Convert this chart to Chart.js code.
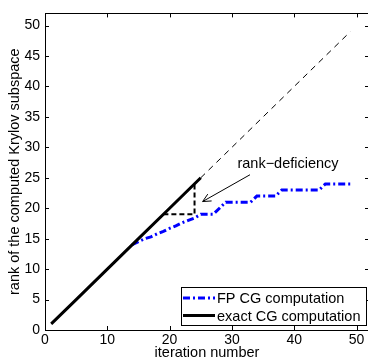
<!DOCTYPE html>
<html>
<head>
<meta charset="utf-8">
<script src="https://cdn.jsdelivr.net/npm/chart.js@4/dist/chart.umd.min.js"></script>
<style>
  html, body { margin: 0; padding: 0; background: #fff; overflow: hidden; }
  #wrap { position: absolute; left: 0; top: 0; width: 372px; height: 362px; }
</style>
</head>
<body>
<div id="wrap"><canvas id="c" width="372" height="362"></canvas></div>
<script>
// ---- data ----
const xTicks = [0, 10, 20, 30, 40, 50];
const yTicks = [0, 5, 10, 15, 20, 25, 30, 35, 40, 45, 50];

const refX = [1, 49];
const refY = [1, 49];

const exactX = [1, 5, 10, 15, 20, 25];
const exactY = [1, 5, 10, 15, 20, 25];

const fpX = [14, 15, 16, 17, 18, 19, 20, 21, 22, 23, 24, 25, 26, 27, 28, 29, 30, 31, 32, 33, 34, 35, 36, 37, 38, 39, 40, 41, 42, 43, 44, 45, 46, 47, 48, 49];
const fpY = [14, 14.5, 15, 15.3, 15.8, 16.2, 16.7, 17.1, 17.6, 18.0, 18.4, 19, 19, 19, 20, 21, 21, 21, 21, 21, 22, 22, 22, 22, 23, 23, 23, 23, 23, 23, 23, 24, 24, 24, 24, 24];

const gapX = [19, 24, 24];
const gapY = [19, 19, 24];

const annText = 'rank\u2212deficiency';
const annTextPos = [39, 27.3];
const annArrowFrom = [32.9, 25.5];
const annArrowTo = [25.3, 21.1];

const labels = ['FP CG computation', 'exact CG computation'];
const xTitle = 'iteration number';
const yTitle = 'rank of the computed Krylov subspace';

const pts = (xs, ys) => xs.map((x, i) => ({ x: x, y: ys[i] }));
const FONT = '"Liberation Sans", Arial, Helvetica, sans-serif';

// ---- plugin: box, inward ticks, annotation, legend ----
const decor = {
  id: 'decor',
  beforeDatasetsDraw(chart) {
    const { ctx, chartArea: a, scales: { x, y } } = chart;
    ctx.save();
    ctx.strokeStyle = '#000';
    ctx.lineWidth = 1;
    ctx.strokeRect(Math.round(a.left) + 0.5, Math.round(a.top) + 0.5, Math.round(a.right - a.left), Math.round(a.bottom - a.top));
    const tl = 4;
    ctx.beginPath();
    xTicks.forEach(v => {
      const px = Math.round(x.getPixelForValue(v)) + 0.5;
      ctx.moveTo(px, a.bottom); ctx.lineTo(px, a.bottom - tl);
      ctx.moveTo(px, a.top); ctx.lineTo(px, a.top + tl);
    });
    yTicks.forEach(v => {
      const py = Math.round(y.getPixelForValue(v)) + 0.5;
      ctx.moveTo(a.left, py); ctx.lineTo(a.left + tl, py);
      ctx.moveTo(a.right, py); ctx.lineTo(a.right - tl, py);
    });
    ctx.stroke();
    ctx.restore();
  },
  afterDatasetsDraw(chart) {
    const { ctx, chartArea: a, scales: { x, y } } = chart;
    ctx.save();
    // annotation
    ctx.fillStyle = '#000';
    ctx.font = '14.5px ' + FONT;
    ctx.textAlign = 'center';
    ctx.textBaseline = 'middle';
    ctx.fillText(annText, x.getPixelForValue(annTextPos[0]), y.getPixelForValue(annTextPos[1]));
    const x1 = x.getPixelForValue(annArrowFrom[0]), y1 = y.getPixelForValue(annArrowFrom[1]);
    const x2 = x.getPixelForValue(annArrowTo[0]), y2 = y.getPixelForValue(annArrowTo[1]);
    ctx.strokeStyle = '#000';
    ctx.lineWidth = 1;
    ctx.beginPath();
    ctx.moveTo(x1, y1); ctx.lineTo(x2, y2);
    const ang = Math.atan2(y2 - y1, x2 - x1);
    const hl = 9, hw = 0.45;
    ctx.moveTo(x2 - hl * Math.cos(ang - hw), y2 - hl * Math.sin(ang - hw));
    ctx.lineTo(x2, y2);
    ctx.lineTo(x2 - hl * Math.cos(ang + hw), y2 - hl * Math.sin(ang + hw));
    ctx.stroke();

    // legend
    const bw = 185, bh = 38;
    const bx = Math.round(a.right - 3 - bw), by = Math.round(a.bottom - 5 - bh);
    ctx.fillStyle = '#fff';
    ctx.fillRect(bx, by, bw, bh);
    ctx.strokeRect(bx + 0.5, by + 0.5, bw, bh);
    const items = [chart.data.datasets[0], chart.data.datasets[1]];
    items.forEach((ds, i) => {
      const cy = by + 11 + i * 17.5;
      ctx.save();
      ctx.strokeStyle = ds.borderColor;
      ctx.lineWidth = ds.borderWidth;
      ctx.setLineDash(ds.borderDash || []);
      ctx.beginPath();
      ctx.moveTo(bx + 2, cy); ctx.lineTo(bx + 34, cy);
      ctx.stroke();
      ctx.restore();
      ctx.fillStyle = '#000';
      ctx.font = '14.5px ' + FONT;
      ctx.textAlign = 'left';
      ctx.textBaseline = 'middle';
      ctx.fillText(ds.label, bx + 36, cy + 1);
    });
    ctx.restore();
  }
};

const tickFont = { family: FONT, size: 14 };
const titleFont = { family: FONT, size: 14.5 };

new Chart(document.getElementById('c'), {
  type: 'scatter',
  data: {
    datasets: [
      { label: labels[0], data: pts(fpX, fpY), showLine: true, borderColor: '#0000ff', borderWidth: 3,
        borderDash: [7, 3, 2, 3], pointRadius: 0, tension: 0, order: 2 },
      { label: labels[1], data: pts(exactX, exactY), showLine: true, borderColor: '#000', borderWidth: 3,
        pointRadius: 0, tension: 0, order: 1 },
      { label: 'ref', data: pts(refX, refY), showLine: true, borderColor: '#000', borderWidth: 1,
        borderDash: [6, 5], pointRadius: 0, order: 3 },
      { label: 'gap', data: pts(gapX, gapY), showLine: true, borderColor: '#000', borderWidth: 2,
        borderDash: [5, 3], pointRadius: 0, order: 0 }
    ]
  },
  options: {
    responsive: false,
    animation: false,
    devicePixelRatio: 1,
    layout: { padding: { left: 0, top: 7, right: 3, bottom: 0 } },
    plugins: { legend: { display: false }, tooltip: { enabled: false } },
    scales: {
      x: {
        type: 'linear', min: 0, max: 52,
        afterBuildTicks: s => { s.ticks = xTicks.map(v => ({ value: v })); },
        afterFit: s => { s.height = 32; },
        grid: { display: false, drawTicks: false },
        border: { display: false },
        ticks: { color: '#000', font: tickFont, padding: 2, maxRotation: 0, autoSkip: false },
        title: { display: true, text: xTitle, color: '#000', font: titleFont, padding: { top: 0, bottom: 0 } }
      },
      y: {
        type: 'linear', min: 0, max: 52,
        afterBuildTicks: s => { s.ticks = yTicks.map(v => ({ value: v })); },
        afterFit: s => { s.width = 45; },
        grid: { display: false, drawTicks: false },
        border: { display: false },
        ticks: { color: '#000', font: tickFont, padding: 5, autoSkip: false },
        title: { display: true, text: yTitle, color: '#000', font: titleFont, padding: { top: 6, bottom: 0 } }
      }
    }
  },
  plugins: [decor]
});
</script>
</body>
</html>
